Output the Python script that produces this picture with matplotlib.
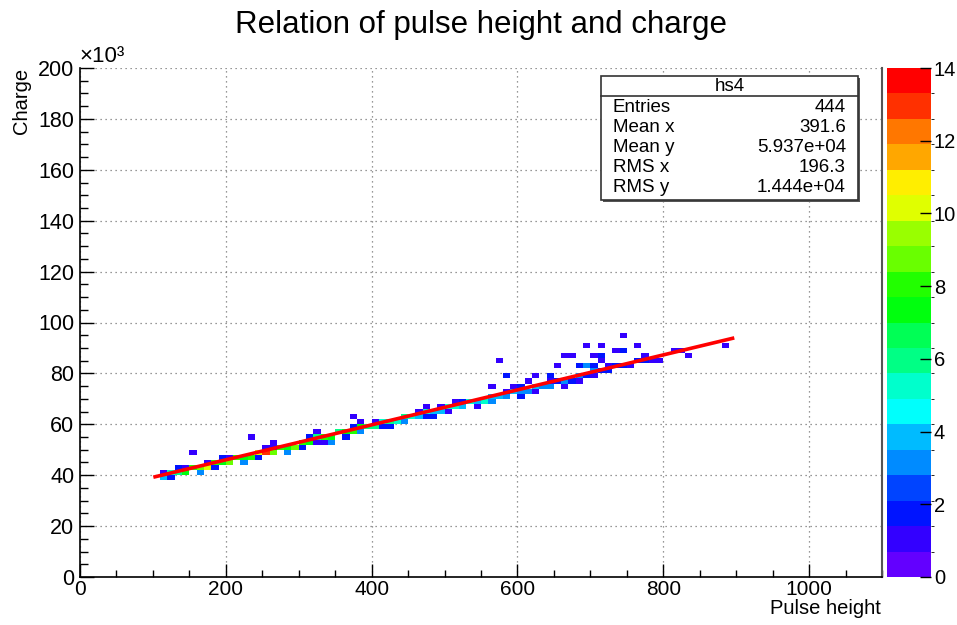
import colorsys
import numpy as np
import matplotlib
matplotlib.use('Agg')
import matplotlib.pyplot as plt
from matplotlib.colors import ListedColormap, BoundaryNorm
from matplotlib.patches import Rectangle
from matplotlib.ticker import MultipleLocator

plt.rcParams['font.family'] = ['Liberation Sans', 'DejaVu Sans']

# bins sitting on the fit line (pulse height bin centre, charge bin centre in 1e3, entries)
band_x = [115, 125, 135, 145, 155, 165, 175, 185, 195, 205,
          215, 225, 235, 245, 255, 265, 275, 285, 295, 305,
          315, 325, 335, 345, 355, 365, 375, 385, 395, 405,
          415, 425, 435, 445, 455, 465, 475, 485, 495, 505,
          515, 525, 535, 545, 555, 565, 575, 585, 595, 605,
          615, 625, 635, 645, 655, 665, 675, 685, 695, 705,
          715, 725, 735, 745, 755, 765, 775, 785]
band_y = [39, 41, 41, 41, 43, 43, 43, 45, 45, 45,
          47, 47, 47, 49, 49, 49, 51, 51, 51, 53,
          53, 55, 55, 55, 57, 57, 57, 59, 59, 59,
          61, 61, 61, 63, 63, 63, 65, 65, 65, 67,
          67, 67, 69, 69, 69, 71, 71, 71, 73, 73,
          73, 75, 75, 75, 77, 77, 77, 79, 79, 81,
          81, 81, 83, 83, 83, 85, 85, 85]
band_n = [4, 5, 6, 7, 8, 9, 10, 8, 7, 9,
          8, 7, 8, 10, 13, 9, 8, 7, 9, 8,
          7, 6, 8, 7, 6, 7, 8, 7, 6, 6,
          5, 6, 5, 6, 5, 4, 5, 4, 4, 5,
          5, 4, 5, 4, 5, 4, 4, 3, 4, 3,
          3, 4, 3, 3, 2, 3, 2, 3, 2, 3,
          2, 2, 2, 2, 1, 2, 2, 1]

# neighbouring bins just off the line
side_x = [125, 145, 165, 185, 205, 225, 245, 265, 285, 305, 325, 345, 365, 385, 405, 425,
          445, 465, 485, 505, 525, 545, 565, 585, 605, 625, 645, 665, 685, 705, 725]
side_y = [39, 43, 41, 43, 47, 45, 47, 51, 49, 51, 53, 53, 55, 57, 61, 59,
          61, 65, 63, 65, 69, 67, 69, 73, 71, 73, 77, 75, 77, 79, 83]
side_n = [2, 1, 3, 2, 1, 3, 2, 1, 3, 2, 1, 3, 2, 3, 1, 2,
          3, 1, 2, 1, 2, 1, 3, 1, 2, 1, 1, 1, 1, 1, 1]

# scattered bins
out_x = [115, 135, 155, 175, 195, 235, 255, 265, 315, 325, 335, 375, 375, 385, 415, 475,
         475, 495, 515, 565, 575, 585, 595, 605, 615, 625, 645, 655, 665, 675, 685, 695,
         695, 705, 705, 715, 715, 715, 735, 745, 745, 765, 775, 795, 815, 825, 835, 885]
out_y = [41, 43, 49, 45, 47, 55, 51, 53, 55, 57, 53, 63, 59, 61, 59, 67,
         63, 67, 69, 75, 85, 79, 75, 75, 77, 79, 79, 83, 87, 87, 83, 91,
         83, 87, 83, 91, 87, 85, 89, 95, 89, 91, 87, 85, 89, 89, 87, 91]
out_n = [1, 2, 1, 1, 2, 1, 1, 1, 2, 1, 1, 1, 2, 1, 2, 1,
         2, 1, 1, 1, 1, 2, 1, 2, 1, 1, 2, 1, 1, 1, 2, 1,
         3, 1, 2, 1, 2, 1, 1, 1, 2, 1, 1, 1, 1, 1, 1, 1]

# linear fit
fit_p0 = 32300.0
fit_p1 = 68.7
fit_lo, fit_hi = 103, 895

stats_names = ['Entries', 'Mean x', 'Mean y', 'RMS x', 'RMS y']
stats_values = ['444', '391.6', '5.937e+04', '196.3', '1.444e+04']

# ---- histogram ----
xs = np.array(band_x + side_x + out_x, dtype=float)
ys = np.array(band_y + side_y + out_y, dtype=float) * 1000
ws = np.array(band_n + side_n + out_n, dtype=float)
xedges = np.linspace(0, 1100, 111)
yedges = np.linspace(0, 200000, 101)
H, _, _ = np.histogram2d(xs, ys, bins=[xedges, yedges], weights=ws)
H = np.ma.masked_equal(H.T, 0)

# ROOT "pretty" palette, 20 contours between 0 and 14
ndiv = 20
cols = []
for j in range(ndiv):
    idx = int((j + 0.99) * 50 / ndiv)
    hue = 280 - (idx + 1) * 5.6
    cols.append(colorsys.hls_to_rgb(hue / 360.0, 0.5, 1.0))
cmap = ListedColormap(cols)
norm = BoundaryNorm(np.linspace(0, 14, ndiv + 1), cmap.N)

W, Hpx = 957, 625
fig = plt.figure(figsize=(W / 100, Hpx / 100), dpi=100)
ax = fig.add_axes([80 / W, 1 - 577 / Hpx, 802 / W, 509 / Hpx])
cax = fig.add_axes([887 / W, 1 - 577 / Hpx, 44 / W, 509 / Hpx])

mesh = ax.pcolormesh(xedges, yedges, H, cmap=cmap, norm=norm, zorder=2)

fx = np.array([fit_lo, fit_hi], dtype=float)
ax.plot(fx, fit_p0 + fit_p1 * fx, color='#ff0000', lw=2.6, zorder=3)

ax.set_xlim(0, 1100)
ax.set_ylim(0, 200000)
ax.set_xticks(np.arange(0, 1001, 200))
ax.xaxis.set_minor_locator(MultipleLocator(50))
yt = np.arange(0, 200001, 20000)
ax.set_yticks(yt)
ax.set_yticklabels([str(int(v / 1000)) for v in yt])
ax.yaxis.set_minor_locator(MultipleLocator(5000))
ax.tick_params(axis='x', which='major', direction='in', length=9.5, width=1, labelsize=15, pad=2)
ax.tick_params(axis='x', which='minor', direction='in', length=5, width=1)
ax.tick_params(axis='y', which='major', direction='in', length=10, width=1, labelsize=15.5, pad=4)
ax.tick_params(axis='y', which='minor', direction='in', length=6, width=1)
ax.grid(True, which='major', linestyle=(0, (1, 3)), color='#777777', lw=0.9, zorder=1)
ax.spines['top'].set_visible(False)
ax.spines['right'].set_color('#555555')
ax.spines['right'].set_linewidth(1.5)
for s in ['left', 'bottom']:
    ax.spines[s].set_linewidth(1.2)

# colour scale
cb = fig.colorbar(mesh, cax=cax, ticks=np.arange(0, 15, 2))
cb.outline.set_visible(False)
cax.tick_params(direction='in', length=8, width=1, labelsize=14.5, pad=2)
cax.set_yticklabels([str(v) for v in range(0, 15, 2)])

# texts
fig.text(481 / W, 1 - 25 / Hpx, 'Relation of pulse height and charge', ha='center', va='center', fontsize=22.5)
fig.text(881 / W, 1 - 608 / Hpx, 'Pulse height', ha='right', va='center', fontsize=14.5)
fig.text(22 / W, 1 - 68 / Hpx, 'Charge', ha='center', va='top', rotation=90, fontsize=14.5)
fig.text(79 / W, 1 - 57 / Hpx, '\u00d710\u00b3', ha='left', va='center', fontsize=16)

# stats box
bx0, bx1, by0, by1 = 601, 858, 76, 200
shadow = Rectangle((bx0 / W + 2 / W, 1 - by1 / Hpx - 2 / Hpx), (bx1 - bx0) / W, (by1 - by0) / Hpx,
                   transform=fig.transFigure, facecolor='#555555', edgecolor='none', zorder=4)
box = Rectangle((bx0 / W, 1 - by1 / Hpx), (bx1 - bx0) / W, (by1 - by0) / Hpx,
                transform=fig.transFigure, facecolor='white', edgecolor='#333333', lw=1.2, zorder=5)
fig.patches.extend([shadow, box])
fig.add_artist(matplotlib.lines.Line2D([bx0 / W, bx1 / W], [1 - 96 / Hpx, 1 - 96 / Hpx],
                                       transform=fig.transFigure, color='#333333', lw=1.2, zorder=6))
fig.text((bx0 + bx1) / 2 / W, 1 - 86.5 / Hpx, 'hs4', ha='center', va='center', fontsize=13.5, zorder=7)
rows_y = [108, 128, 148, 168, 188]
for name, val, ry in zip(stats_names, stats_values, rows_y):
    fig.text(613 / W, 1 - ry / Hpx, name, ha='left', va='center', fontsize=13.5, zorder=7)
    fig.text(846 / W, 1 - ry / Hpx, val, ha='right', va='center', fontsize=13.5, zorder=7)

fig.savefig('out.png', dpi=100)
